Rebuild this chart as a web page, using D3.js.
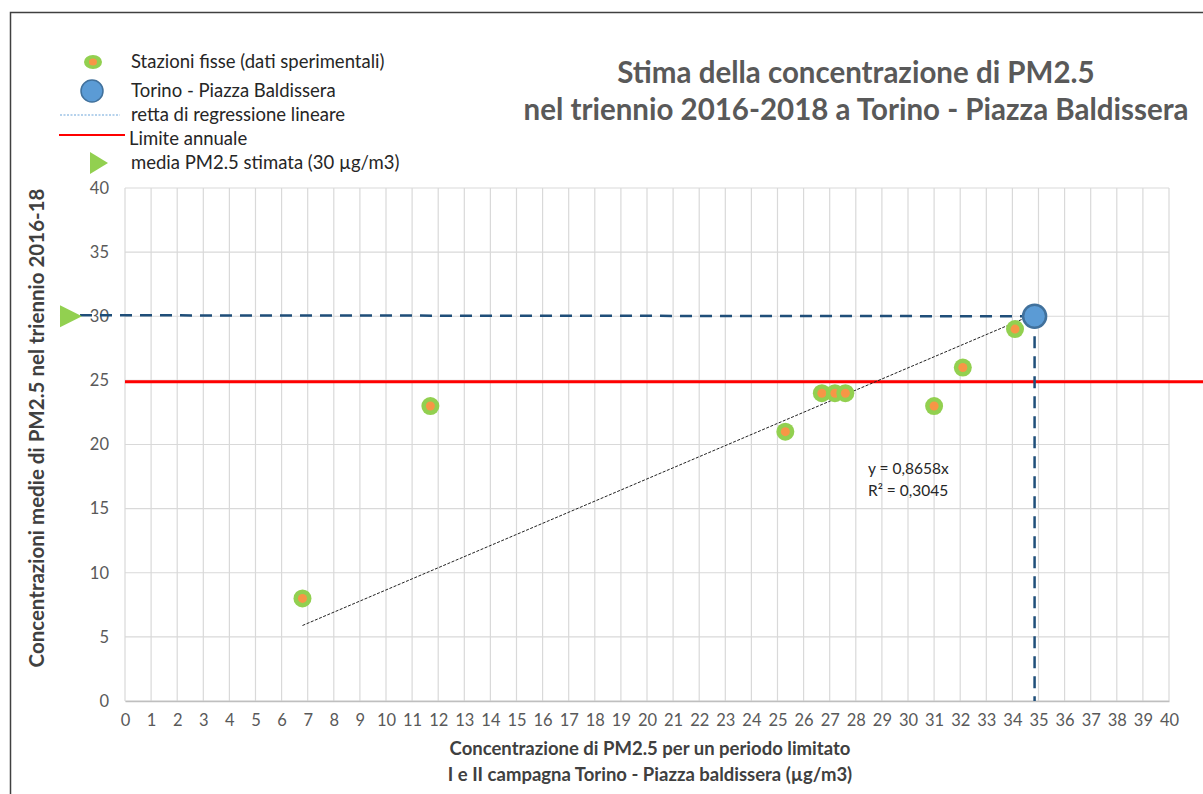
<!DOCTYPE html>
<html>
<head>
<meta charset="utf-8">
<script src="https://cdn.jsdelivr.net/npm/d3@7"></script>
<style>
  body { margin: 0; background: #fff; }
  text { font-family: Lato, "Open Sans", sans-serif; }
</style>
</head>
<body>
<div id="chart"></div>
<script>
// data
var stationX = [6.8, 11.7, 25.3, 26.7, 27.2, 27.6, 31.0, 32.1, 34.1]
var stationY = [8, 23, 21, 24, 24, 24, 23, 26, 29]
var siteX = 34.85
var siteY = 30
var slope = 0.8658
var r2Label = 'R² = 0,3045'
var eqLabel = 'y = 0,8658x'
var regressionRange = [6.8, 34.65]
var limitValue = 24.9
var xTicks = d3.range(0, 41, 1)
var yTicks = d3.range(0, 41, 5)
var legendLabels = [
  'Stazioni fisse (dati sperimentali)',
  'Torino - Piazza Baldissera',
  'retta di regressione lineare',
  'Limite annuale',
  'media PM2.5 stimata (30 µg/m3)'
]
var titleLines = ['Stima della concentrazione di PM2.5', 'nel triennio 2016-2018 a Torino - Piazza Baldissera']
var xTitleLines = ['Concentrazione di PM2.5 per un periodo limitato', 'I e II campagna Torino - Piazza baldissera (µg/m3)']
var yTitle = 'Concentrazioni medie di PM2.5 nel triennio 2016-18'

var W = 1203
var H = 794
var plot = { left: 125, right: 1169, top: 188, bottom: 701 }

var svg = d3.select('#chart').append('svg')
  .attr('width', W)
  .attr('height', H)

// outer frame (cut off on right and bottom like the reference)
svg.append('rect')
  .attr('x', 10.5).attr('y', 12.5)
  .attr('width', W + 20).attr('height', H + 20)
  .attr('fill', 'none')
  .attr('stroke', '#404040')
  .attr('stroke-width', 1.5)

var x = d3.scaleLinear().domain([0, 40]).range([plot.left, plot.right])
var y = d3.scaleLinear().domain([0, 40]).range([plot.bottom, plot.top])

// grid
svg.append('g').selectAll('line')
  .data(xTicks)
  .enter().append('line')
  .attr('x1', function (d) { return x(d) }).attr('x2', function (d) { return x(d) })
  .attr('y1', y(0)).attr('y2', y(40))
  .attr('stroke', '#d9d9d9').attr('stroke-width', 1.2)

svg.append('g').selectAll('line')
  .data(yTicks)
  .enter().append('line')
  .attr('x1', x(0)).attr('x2', x(40))
  .attr('y1', function (d) { return y(d) }).attr('y2', function (d) { return y(d) })
  .attr('stroke', '#d9d9d9').attr('stroke-width', 1.2)

// axes
var xAxis = svg.append('g')
  .attr('transform', 'translate(0,' + y(0) + ')')
  .call(d3.axisBottom(x).tickValues(xTicks).tickSize(0).tickPadding(13))
xAxis.select('.domain').attr('stroke', '#bfbfbf').attr('stroke-width', 1.5)
xAxis.selectAll('text').attr('fill', '#595959').attr('font-size', 16.5)

var yAxis = svg.append('g')
  .attr('transform', 'translate(' + x(0) + ',0)')
  .call(d3.axisLeft(y).tickValues(yTicks).tickSize(0).tickPadding(16))
yAxis.select('.domain').remove()
yAxis.selectAll('text').attr('fill', '#595959').attr('font-size', 16.5)

// limit line
svg.append('line')
  .attr('x1', x(0)).attr('x2', W)
  .attr('y1', y(limitValue)).attr('y2', y(limitValue))
  .attr('stroke', '#ff0000').attr('stroke-width', 3)

// regression line
svg.append('line')
  .attr('x1', x(regressionRange[0])).attr('y1', y(slope * regressionRange[0]))
  .attr('x2', x(regressionRange[1])).attr('y2', y(slope * regressionRange[1]))
  .attr('stroke', '#222').attr('stroke-width', 1)
  .attr('stroke-dasharray', '3,1.5')

// dashed guide lines
svg.append('line')
  .attr('x1', 60).attr('y1', y(siteY) - 1)
  .attr('x2', x(siteX)).attr('y2', y(siteY))
  .attr('stroke', '#1f4e79').attr('stroke-width', 2.5)
  .attr('stroke-dasharray', '12,8')

svg.append('line')
  .attr('x1', x(siteX)).attr('y1', y(siteY))
  .attr('x2', x(siteX)).attr('y2', y(0))
  .attr('stroke', '#1f4e79').attr('stroke-width', 2.5)
  .attr('stroke-dasharray', '12,8')

// stations
var pts = svg.append('g').selectAll('g')
  .data(d3.range(stationX.length))
  .enter().append('g')
  .attr('transform', function (i) { return 'translate(' + x(stationX[i]) + ',' + y(stationY[i]) + ')' })
pts.append('circle').attr('r', 9).attr('fill', '#92d050')
pts.append('circle').attr('r', 4.5).attr('fill', '#f79646')

// site
svg.append('circle')
  .attr('cx', x(siteX)).attr('cy', y(siteY))
  .attr('r', 11.5)
  .attr('fill', '#5b9bd5')
  .attr('stroke', '#41719c').attr('stroke-width', 2.5)

// estimated mean triangle
svg.append('path')
  .attr('d', 'M0,-11 L22,0 L0,11 Z')
  .attr('transform', 'translate(60,' + y(siteY) + ')')
  .attr('fill', '#92d050')

// regression annotation
svg.append('text').attr('x', 868).attr('y', 474).attr('font-size', 15.5).attr('fill', '#262626').text(eqLabel)
svg.append('text').attr('x', 868).attr('y', 496).attr('font-size', 15.5).attr('fill', '#262626').text(r2Label)

// title
svg.append('g').selectAll('text')
  .data(titleLines)
  .enter().append('text')
  .attr('x', 856)
  .attr('y', function (d, i) { return 83 + i * 37 })
  .attr('text-anchor', 'middle')
  .attr('font-size', 29.5)
  .attr('font-weight', 'bold')
  .attr('fill', '#595959')
  .text(function (d) { return d })

// axis titles
svg.append('g').selectAll('text')
  .data(xTitleLines)
  .enter().append('text')
  .attr('x', 650)
  .attr('y', function (d, i) { return 755 + i * 26 })
  .attr('text-anchor', 'middle')
  .attr('font-size', 18.5)
  .attr('font-weight', 'bold')
  .attr('fill', '#404040')
  .text(function (d) { return d })

svg.append('text')
  .attr('transform', 'translate(44,' + 428 + ') rotate(-90)')
  .attr('text-anchor', 'middle')
  .attr('font-size', 20.5)
  .attr('font-weight', 'bold')
  .attr('fill', '#404040')
  .text(yTitle)

// legend
var legendY = [62, 91, 115, 139, 163]
var legend = svg.append('g')
legend.selectAll('text')
  .data(legendLabels)
  .enter().append('text')
  .attr('x', function (d, i) { return i === 3 ? 129 : 131 })
  .attr('y', function (d, i) { return legendY[i] + 6 })
  .attr('font-size', 18.5)
  .attr('fill', '#262626')
  .text(function (d) { return d })

legend.append('ellipse').attr('cx', 93).attr('cy', legendY[0]).attr('rx', 9).attr('ry', 7).attr('fill', '#92d050')
legend.append('ellipse').attr('cx', 93).attr('cy', legendY[0]).attr('rx', 4).attr('ry', 3.5).attr('fill', '#f79646')
legend.append('circle').attr('cx', 92).attr('cy', legendY[1]).attr('r', 11).attr('fill', '#5b9bd5').attr('stroke', '#41719c').attr('stroke-width', 1.5)
legend.append('line').attr('x1', 60).attr('x2', 120).attr('y1', legendY[2]).attr('y2', legendY[2])
  .attr('stroke', '#9dc3e6').attr('stroke-width', 1.5).attr('stroke-dasharray', '2,1.5')
legend.append('line').attr('x1', 59).attr('x2', 125).attr('y1', legendY[3] - 4).attr('y2', legendY[3] - 4)
  .attr('stroke', '#ff0000').attr('stroke-width', 2)
legend.append('path').attr('d', 'M0,-11 L18,0 L0,11 Z')
  .attr('transform', 'translate(90,' + legendY[4] + ')')
  .attr('fill', '#92d050')
</script>
</body>
</html>
